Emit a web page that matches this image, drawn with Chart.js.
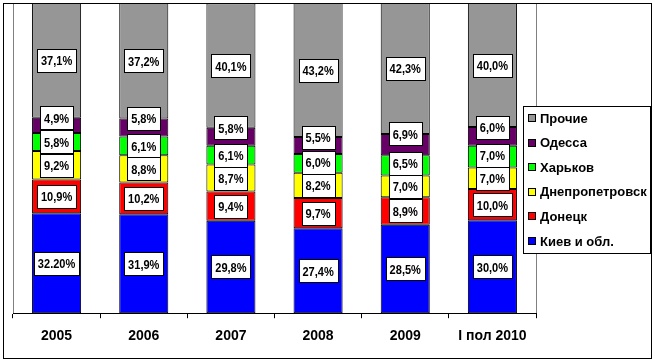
<!DOCTYPE html>
<html>
<head>
<meta charset="utf-8">
<script src="https://cdn.jsdelivr.net/npm/chart.js@4.4.1/dist/chart.umd.min.js"></script>
<style>
html,body{margin:0;padding:0;background:#fff;}
canvas{display:block;}
</style>
</head>
<body>
<canvas id="c" width="655" height="362"></canvas>
<script>
const categories = ['2005', '2006', '2007', '2008', '2009', 'I пол 2010'];
const seriesNames = ['Киев и обл.', 'Донецк', 'Днепропетровск', 'Харьков', 'Одесса', 'Прочие'];
const kiev     = [32.2, 31.9, 29.8, 27.4, 28.5, 30.0];
const donetsk  = [10.9, 10.2, 9.4, 9.7, 8.9, 10.0];
const dnepr    = [9.2, 8.8, 8.7, 8.2, 7.0, 7.0];
const kharkov  = [5.8, 6.1, 6.1, 6.0, 6.5, 7.0];
const odessa   = [4.9, 5.8, 5.8, 5.5, 6.9, 6.0];
const other    = [37.1, 37.2, 40.1, 43.2, 42.3, 40.0];
const labelOverrides = { '0|0': '32.20%' };

const colors = ['#0000FF', '#FF0000', '#FFFF00', '#00FF00', '#660066', '#969696'];
const values = [kiev, donetsk, dnepr, kharkov, odessa, other];
const FONT = '"Liberation Sans", Arial, sans-serif';

const datasets = values.map((v, i) => ({
  label: seriesNames[i],
  data: v,
  backgroundColor: colors[i],
  borderColor: '#000',
  borderWidth: 1,
  borderSkipped: false,
  categoryPercentage: 1.0,
  barPercentage: 0.563,
  labelAnchor: i === 4 ? 'end' : 'center'
}));

function fmt(ds, idx, v) {
  const k = ds + '|' + idx;
  if (labelOverrides[k]) return labelOverrides[k];
  return v.toFixed(1).replace('.', ',') + '%';
}

const bgPlugin = {
  id: 'bg',
  beforeDraw(chart) {
    const ctx = chart.ctx;
    ctx.save();
    ctx.fillStyle = '#fff';
    ctx.fillRect(0, 0, chart.width, chart.height);
    ctx.restore();
  },
  beforeDatasetsDraw(chart) {
    const ctx = chart.ctx, a = chart.chartArea;
    ctx.save();
    ctx.strokeStyle = '#808080';
    ctx.lineWidth = 1;
    ctx.beginPath();
    ctx.moveTo(Math.round(a.left) + 0.5, Math.round(a.bottom));
    ctx.lineTo(Math.round(a.left) + 0.5, Math.round(a.top) + 0.5);
    ctx.lineTo(Math.round(a.right) + 0.5, Math.round(a.top) + 0.5);
    ctx.lineTo(Math.round(a.right) + 0.5, Math.round(a.bottom));
    ctx.stroke();
    ctx.restore();
  }
};

const labelPlugin = {
  id: 'boxLabels',
  afterDatasetsDraw(chart) {
    const ctx = chart.ctx;
    ctx.save();
    ctx.font = 'bold 13px ' + FONT;
    ctx.textAlign = 'center';
    ctx.textBaseline = 'middle';
    const h = 23, sx = 0.85;
    const n = categories.length;
    for (let j = 0; j < n; j++) {
      let prevTop = Infinity;
      chart.data.datasets.forEach((ds, i) => {
        const el = chart.getDatasetMeta(i).data[j];
        const v = ds.data[j];
        const txt = fmt(i, j, v);
        const top = Math.min(el.y, el.base), bot = Math.max(el.y, el.base);
        let cy = ds.labelAnchor === 'end' ? top : (top + bot) / 2;
        if (cy + h / 2 > prevTop) cy = prevTop - h / 2;
        prevTop = cy - h / 2;
        const tw = ctx.measureText(txt).width * sx;
        const w = Math.round(tw + 8);
        const x0 = Math.round(el.x - w / 2) + 0.5;
        const y0 = Math.round(cy - h / 2) + 0.5;
        ctx.fillStyle = '#fff';
        ctx.fillRect(x0, y0, w, h);
        ctx.strokeStyle = '#000';
        ctx.lineWidth = 1;
        ctx.strokeRect(x0, y0, w, h);
        ctx.fillStyle = '#000';
        ctx.save();
        ctx.translate(el.x, Math.round(cy) + 1);
        ctx.scale(sx, 1);
        ctx.fillText(txt, 0, 0);
        ctx.restore();
      });
    }
    ctx.restore();
  }
};

const legendPlugin = {
  id: 'customLegend',
  afterDraw(chart) {
    const ctx = chart.ctx;
    ctx.save();
    ctx.strokeStyle = '#000';
    ctx.lineWidth = 1;
    ctx.strokeRect(3.5, 3.5, 648, 355);
    const lx = 523.5, ly = 106.5, lw = 127, lh = 147;
    ctx.fillStyle = '#fff';
    ctx.fillRect(lx, ly, lw, lh);
    ctx.strokeRect(lx, ly, lw, lh);
    ctx.font = 'bold 13px ' + FONT;
    ctx.textBaseline = 'middle';
    ctx.textAlign = 'left';
    const items = chart.data.datasets.slice().reverse();
    items.forEach((ds, k) => {
      const cy = 118 + k * 24.6;
      ctx.fillStyle = ds.backgroundColor;
      ctx.fillRect(528.5, Math.round(cy) - 3.5, 7, 7);
      ctx.strokeStyle = '#000';
      ctx.strokeRect(528.5, Math.round(cy) - 3.5, 7, 7);
      ctx.fillStyle = '#000';
      ctx.fillText(ds.label, 540, cy + 1);
    });
    ctx.restore();
  }
};

new Chart(document.getElementById('c'), {
  type: 'bar',
  data: { labels: categories, datasets },
  options: {
    responsive: false,
    devicePixelRatio: 1,
    animation: false,
    layout: { padding: { left: 13, right: 119, top: 3, bottom: 7 } },
    plugins: { legend: { display: false }, tooltip: { enabled: false } },
    scales: {
      x: {
        stacked: true,
        grid: { display: true, drawOnChartArea: false, drawTicks: true, tickLength: 5, color: '#000', offset: true },
        border: { display: true, color: '#000', width: 1 },
        ticks: { color: '#000', font: { family: FONT, size: 14, weight: 'bold' }, padding: 10, maxRotation: 0, autoSkip: false }
      },
      y: {
        stacked: true,
        display: false,
        min: 0,
        max: 100
      }
    }
  },
  plugins: [bgPlugin, labelPlugin, legendPlugin]
});
</script>
</body>
</html>
